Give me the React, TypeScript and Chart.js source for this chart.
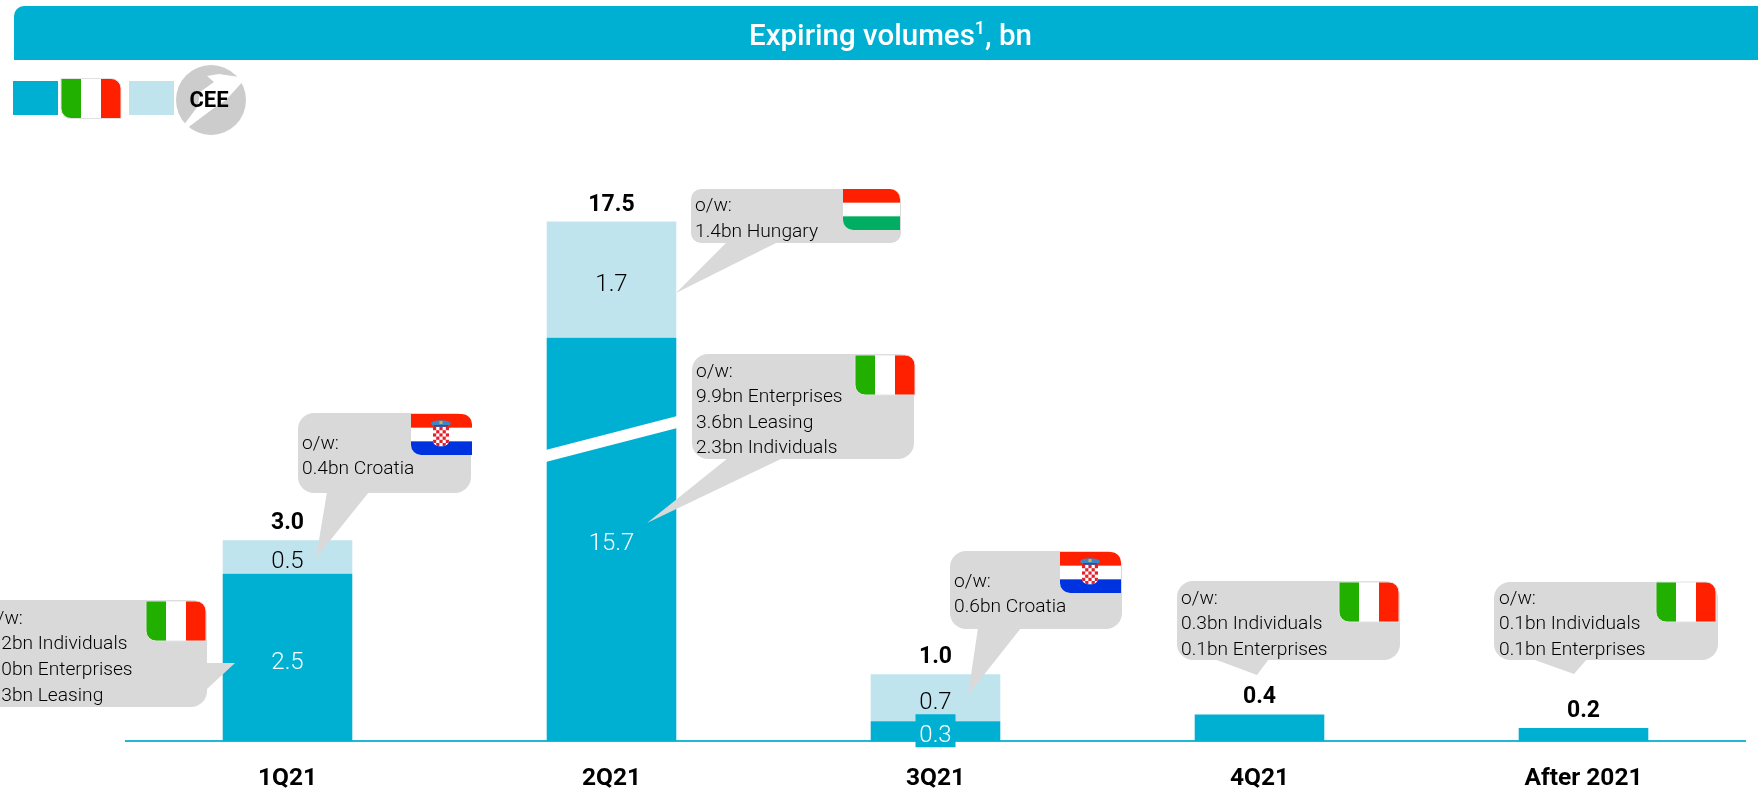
import React, { useEffect, useRef } from "react";
import { Chart, registerables, LinearScale } from "chart.js";

const categories = ["1Q21", "2Q21", "3Q21", "4Q21", "After 2021"];
const italyValues = [2.5, 15.7, 0.3, 0.4, 0.2];
const ceeValues = [0.5, 1.7, 0.7, 0, 0];
const totals = ["3.0", "17.5", "1.0", "0.4", "0.2"];
const italyLabels = ["2.5", "15.7", "0.3", "", ""];
const ceeLabels = ["0.5", "1.7", "0.7", "", ""];
const titleParts = ["Expiring volumes", "1", ", bn"];

const noteItaly1Q = ["o/w:", "1.2bn Individuals", "1.0bn Enterprises", "0.3bn Leasing"];
const noteCroatia1Q = ["o/w:", "0.4bn Croatia"];
const noteHungary2Q = ["o/w:", "1.4bn Hungary"];
const noteItaly2Q = ["o/w:", "9.9bn Enterprises", "3.6bn Leasing", "2.3bn Individuals"];
const noteCroatia3Q = ["o/w:", "0.6bn Croatia"];
const noteItaly4Q = ["o/w:", "0.3bn Individuals", "0.1bn Enterprises"];
const noteItalyAfter = ["o/w:", "0.1bn Individuals", "0.1bn Enterprises"];

// broken value axis: [value, compressed units]
const axisStops: number[][] = [[0, 0], [4, 4], [15.7, 6.024], [17.4, 7.757], [18, 8.37]];

const BLUE = "#00b0d2";
const LIGHT = "#bfe4ee";
const GREY = "#d9d9d9";
const FONT = "Roboto, sans-serif";
const TEXT = "#000000";

function compress(v: number) {
  for (let i = 1; i < axisStops.length; i++) {
    const [a, b] = axisStops[i - 1];
    const [c, d] = axisStops[i];
    if (v <= c) return b + ((v - a) / (c - a)) * (d - b);
  }
  return axisStops[axisStops.length - 1][1];
}

class BrokenScale extends (LinearScale as any) {
  static id = "broken";
  static defaults = (LinearScale as any).defaults;
  getPixelForValue(value: number) {
    return value === null ? NaN : (this as any).getPixelForDecimal(compress(value) / compress((this as any).max));
  }
}

Chart.register(...registerables, BrokenScale as any);

type Ctx = CanvasRenderingContext2D;

function rr(c: Ctx, x: number, y: number, w: number, h: number, r: number[]) {
  c.beginPath();
  c.roundRect(x, y, w, h, r);
}

function flagOutline(c: Ctx, x: number, y: number, w: number, h: number) {
  rr(c, x, y, w, h, [0, 10, 0, 10]);
  c.strokeStyle = "#e2e2e2";
  c.lineWidth = 1;
  c.stroke();
}

function flagItaly(c: Ctx, x: number, y: number) {
  const w = 60, h = 40;
  c.save();
  rr(c, x, y, w, h, [0, 10, 0, 10]);
  c.fillStyle = "#fff";
  c.fill();
  c.clip();
  c.fillStyle = "#21b000";
  c.fillRect(x, y, w / 3, h);
  c.fillStyle = "#ff2000";
  c.fillRect(x + (2 * w) / 3, y, w / 3, h);
  c.restore();
  flagOutline(c, x, y, w, h);
}

function flagStripes(c: Ctx, x: number, y: number, w: number, colours: string[]) {
  const h = 41;
  c.save();
  rr(c, x, y, w, h, [0, 10, 0, 10]);
  c.fillStyle = "#fff";
  c.fill();
  c.clip();
  colours.forEach((col, i) => {
    c.fillStyle = col;
    c.fillRect(x, y + (i * h) / 3, w, h / 3 + 0.5);
  });
  c.restore();
}

function flagCroatia(c: Ctx, x: number, y: number) {
  flagStripes(c, x, y, 61, ["#ff2000", "#ffffff", "#0033e0"]);
  const sx = x + 22, sy = y + 13, n = 5, s = 3.2;
  c.save();
  rr(c, sx, sy, n * s, 6 * s, [0, 0, 6, 6]);
  c.fillStyle = "#fff";
  c.fill();
  c.clip();
  c.fillStyle = "#e0202a";
  for (let i = 0; i < n; i++)
    for (let j = 0; j < 6; j++)
      if ((i + j) % 2 === 0) c.fillRect(sx + i * s, sy + j * s, s, s);
  c.restore();
  c.fillStyle = "#3a86c8";
  c.beginPath();
  c.ellipse(sx + (n * s) / 2, sy - 3.5, (n * s) / 2 + 2, 3.3, 0, 0, Math.PI * 2);
  c.fill();
  c.fillStyle = "#1f4fb0";
  c.fillRect(sx + 1, sy - 2, n * s - 2, 1.5);
  c.fillStyle = "#d9b23a";
  c.fillRect(sx + (n * s) / 2 - 1.5, sy - 6, 3, 3);
}

function callout(c: Ctx, box: number[], r: number, tail: number[], lines: string[], textX: number, baselines: number[]) {
  const [x0, y0, x1, y1] = box;
  c.fillStyle = GREY;
  rr(c, x0, y0, x1 - x0, y1 - y0, [r]);
  c.fill();
  c.beginPath();
  c.moveTo(tail[0], tail[1]);
  c.lineTo(tail[2], tail[3]);
  c.lineTo(tail[4], tail[5]);
  c.closePath();
  c.fill();
  c.fillStyle = TEXT;
  c.font = `300 19.2px ${FONT}`;
  c.textAlign = "left";
  c.textBaseline = "alphabetic";
  lines.forEach((t, i) => c.fillText(t, textX, baselines[i]));
}

const overlay = {
  id: "overlay",
  afterDatasetsDraw(chart: any) {
    const c: Ctx = chart.ctx;
    const italyBars = chart.getDatasetMeta(0).data;
    const ceeBars = chart.getDatasetMeta(1).data;
    c.save();

    // axis-break stripe on the tall bar
    const tall = italyBars[1];
    const left = tall.x - tall.width / 2 - 1;
    const right = tall.x + tall.width / 2 + 1;
    c.fillStyle = "#fff";
    c.beginPath();
    c.moveTo(left, 450);
    c.lineTo(right, 416);
    c.lineTo(right, 428);
    c.lineTo(left, 462);
    c.closePath();
    c.fill();

    // value labels
    c.textAlign = "center";
    c.textBaseline = "alphabetic";
    categories.forEach((_, i) => {
      const top = ceeValues[i] > 0 ? ceeBars[i] : italyBars[i];
      c.font = `700 23px ${FONT}`;
      c.fillStyle = "#000";
      c.fillText(totals[i], top.x, top.y - 11);
      if (ceeLabels[i]) {
        const b = ceeBars[i];
        const mid = (b.y + b.base) / 2;
        c.font = `300 24px ${FONT}`;
        c.fillStyle = TEXT;
        c.fillText(ceeLabels[i], b.x, mid + 11);
      }
      if (italyLabels[i]) {
        const b = italyBars[i];
        const mid = (b.y + b.base) / 2;
        if (i === 2) {
          c.fillStyle = BLUE;
          c.fillRect(b.x - 20, mid - 17, 40, 33);
        }
        c.font = `300 24px ${FONT}`;
        c.fillStyle = "#fff";
        c.fillText(italyLabels[i], b.x, mid + 11);
      }
    });

    // callouts
    callout(c, [-30, 600, 207, 707], 16, [207, 663, 235, 663, 207, 689], noteItaly1Q, -14, [624, 649, 675, 701]);
    flagItaly(c, 146, 601);
    callout(c, [298, 413, 471, 493], 16, [327, 492, 369, 492, 316, 558], noteCroatia1Q, 302, [449, 474]);
    flagCroatia(c, 411, 414);
    callout(c, [691, 189, 901, 243], 10, [727, 242, 778, 242, 676, 293], noteHungary2Q, 695, [211, 237]);
    flagStripes(c, 843, 189, 57, ["#ff2000", "#ffffff", "#00ae62"]);
    callout(c, [692, 354, 914, 459], 16, [728, 458, 783, 458, 647, 523], noteItaly2Q, 696, [377, 402, 428, 453]);
    flagItaly(c, 855, 355);
    callout(c, [950, 551, 1122, 629], 16, [978, 628, 1021, 628, 968, 695], noteCroatia3Q, 954, [587, 612]);
    flagCroatia(c, 1060, 552);
    callout(c, [1177, 581, 1400, 660], 16, [1214, 659, 1269, 659, 1257, 675], noteItaly4Q, 1181, [604, 629, 655]);
    flagItaly(c, 1339, 582);
    callout(c, [1494, 582, 1718, 660], 16, [1532, 659, 1587, 659, 1574, 674], noteItalyAfter, 1499, [604, 629, 655]);
    flagItaly(c, 1656, 582);

    // header band
    c.fillStyle = BLUE;
    rr(c, 14, 6, 1760, 54, [10, 0, 0, 0]);
    c.fill();
    c.fillStyle = "#fff";
    c.textAlign = "left";
    const mainFont = `500 29.5px ${FONT}`;
    const supFont = `500 18px ${FONT}`;
    c.font = mainFont;
    const w0 = c.measureText(titleParts[0]).width;
    const w2 = c.measureText(titleParts[2]).width;
    c.font = supFont;
    const w1 = c.measureText(titleParts[1]).width;
    let tx = 890.5 - (w0 + w1 + w2) / 2;
    c.font = mainFont;
    c.fillText(titleParts[0], tx, 45);
    tx += w0;
    c.font = supFont;
    c.fillText(titleParts[1], tx, 34);
    tx += w1;
    c.font = mainFont;
    c.fillText(titleParts[2], tx, 45);

    // legend
    c.fillStyle = BLUE;
    c.fillRect(13, 81, 45, 34);
    flagItaly(c, 61, 78.5);
    c.fillStyle = LIGHT;
    c.fillRect(129, 81, 45, 34);
    c.fillStyle = "#cccccc";
    c.beginPath();
    c.arc(211, 100, 35, 0, Math.PI * 2);
    c.fill();
    c.fillStyle = "#fff";
    c.beginPath();
    c.moveTo(207, 76);
    c.lineTo(219, 74);
    c.lineTo(246, 78);
    c.lineTo(226, 100);
    c.lineTo(214, 108);
    c.lineTo(186, 129);
    c.lineTo(183, 126);
    c.lineTo(198, 106);
    c.lineTo(200, 92);
    c.lineTo(214, 82);
    c.closePath();
    c.fill();
    c.fillStyle = "#000";
    c.font = `700 22px ${FONT}`;
    c.textAlign = "center";
    c.fillText("CEE", 209, 107);
    c.restore();
  },
};

export default function App() {
  const ref = useRef<HTMLCanvasElement>(null);
  useEffect(() => {
    document.documentElement.style.overflow = "hidden";
    const chart = new Chart(ref.current as HTMLCanvasElement, {
      type: "bar",
      data: {
        labels: categories,
        datasets: [
          { label: "Italy", data: italyValues, backgroundColor: BLUE, borderWidth: 0, stack: "s" },
          { label: "CEE", data: ceeValues, backgroundColor: LIGHT, borderWidth: 0, stack: "s" },
        ],
      },
      options: {
        responsive: false,
        animation: false,
        layout: { padding: { left: 125.5, right: 12.5, top: 180.5, bottom: 0 } },
        barPercentage: 0.4,
        categoryPercentage: 1,
        plugins: { legend: { display: false }, tooltip: { enabled: false }, title: { display: false } },
        scales: {
          x: {
            stacked: true,
            grid: { display: false, drawTicks: false },
            border: { color: "#1fb8d6", width: 2 },
            ticks: { color: "#000", font: { family: FONT, size: 24.5, weight: 700 }, padding: 23, maxRotation: 0 },
            afterFit(scale: any) {
              scale.height = 46.7;
            },
          },
          y: { type: "broken", stacked: true, display: false, min: 0, max: 18 },
        },
      } as any,
      plugins: [overlay],
    });
    return () => chart.destroy();
  }, []);
  return (
    <canvas
      ref={ref}
      width={1758}
      height={788}
      style={{ position: "fixed", left: 0, top: 0, width: 1758, height: 788 }}
    />
  );
}
